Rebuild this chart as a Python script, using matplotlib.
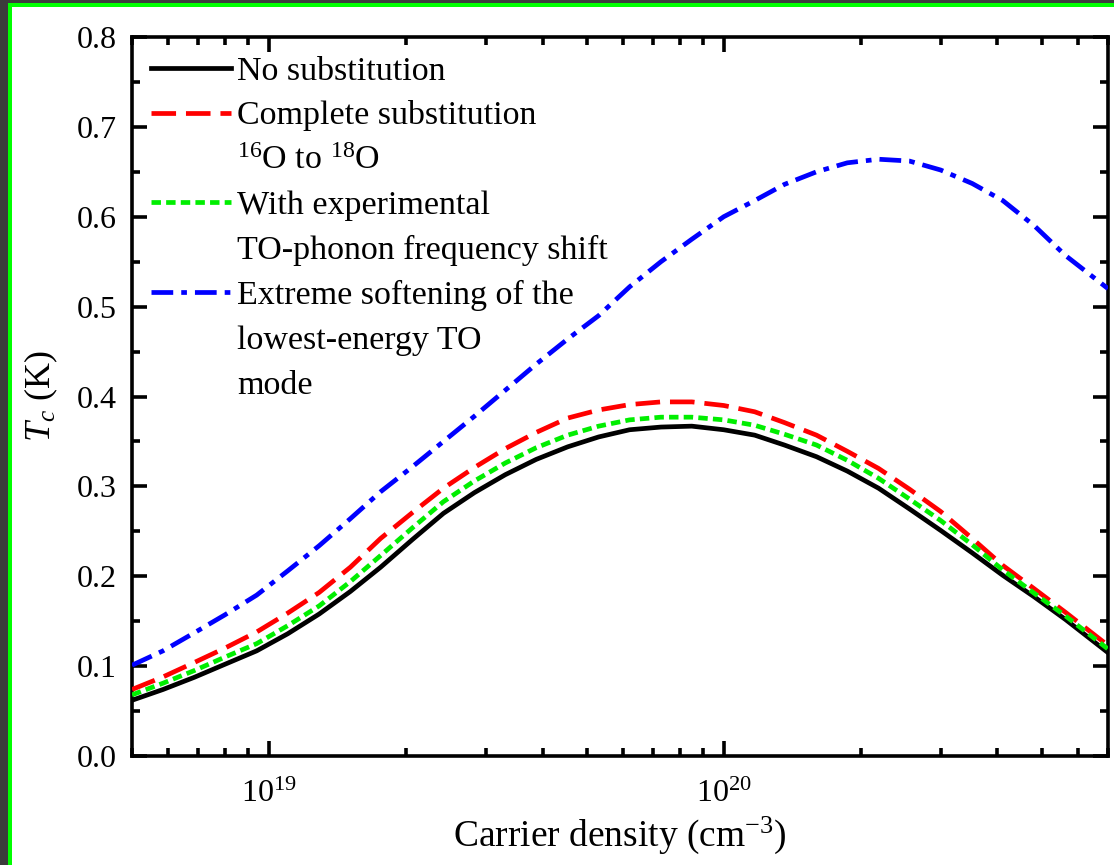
import matplotlib
matplotlib.use("Agg")
import matplotlib.pyplot as plt
from matplotlib.lines import Line2D
from matplotlib.patches import Rectangle
from matplotlib.ticker import LogLocator, NullFormatter, MultipleLocator

plt.rcParams['font.family'] = ['Liberation Serif', 'DejaVu Serif']
plt.rcParams['mathtext.fontset'] = 'custom'
plt.rcParams['mathtext.rm'] = 'Liberation Serif'
plt.rcParams['mathtext.it'] = 'Liberation Serif:italic'
plt.rcParams['mathtext.bf'] = 'Liberation Serif:bold'

# ---- data ----
density = [5.0e18, 5.85e18, 6.85e18, 8.0e18, 9.4e18, 1.1e19, 1.29e19, 1.51e19,
           1.76e19, 2.07e19, 2.42e19, 2.83e19, 3.31e19, 3.87e19, 4.54e19, 5.31e19,
           6.21e19, 7.28e19, 8.51e19, 1.0e20, 1.17e20, 1.36e20, 1.6e20, 1.87e20,
           2.19e20, 2.56e20, 3.0e20, 3.52e20, 4.11e20, 4.82e20, 5.64e20, 7.0e20]
tc_none = [0.062, 0.074, 0.0875, 0.102, 0.117, 0.136, 0.158, 0.183,
           0.210, 0.241, 0.270, 0.293, 0.313, 0.330, 0.344, 0.355,
           0.363, 0.366, 0.367, 0.363, 0.357, 0.346, 0.333, 0.317,
           0.298, 0.275, 0.251, 0.226, 0.201, 0.177, 0.152, 0.115]
tc_complete = [0.074, 0.088, 0.104, 0.120, 0.138, 0.159, 0.182, 0.210,
               0.242, 0.271, 0.298, 0.321, 0.342, 0.360, 0.376, 0.385,
               0.391, 0.394, 0.394, 0.390, 0.383, 0.371, 0.357, 0.339,
               0.320, 0.297, 0.272, 0.242, 0.212, 0.186, 0.160, 0.123]
tc_exp = [0.068, 0.081, 0.095, 0.110, 0.125, 0.145, 0.167, 0.194,
          0.223, 0.254, 0.283, 0.306, 0.326, 0.343, 0.357, 0.367,
          0.374, 0.377, 0.377, 0.374, 0.368, 0.358, 0.346, 0.329,
          0.309, 0.286, 0.262, 0.235, 0.207, 0.181, 0.156, 0.119]
tc_extreme = [0.101, 0.117, 0.137, 0.157, 0.179, 0.206, 0.234, 0.264,
              0.294, 0.322, 0.350, 0.378, 0.407, 0.436, 0.464, 0.490,
              0.522, 0.550, 0.575, 0.600, 0.618, 0.636, 0.650, 0.660,
              0.664, 0.662, 0.652, 0.637, 0.618, 0.590, 0.557, 0.520]

labels = ["No substitution", "Complete substitution", r"$^{16}$O to $^{18}$O",
          "With experimental", "TO-phonon frequency shift",
          "Extreme softening of the", "lowest-energy TO", "mode"]

fig = plt.figure(figsize=(11.14, 8.65), dpi=100)
fig.patch.set_facecolor('white')

# frame decoration seen in reference (dark strip + green line on left/top)
fig.patches.append(Rectangle((0, 0), 8 / 1114, 1, transform=fig.transFigure,
                             facecolor='#3c3c3c', edgecolor='none', zorder=0))
fig.patches.append(Rectangle((8 / 1114, 0), 3.5 / 1114, 1 - 3 / 865, transform=fig.transFigure,
                             facecolor='#00ff00', edgecolor='none', zorder=0))
fig.patches.append(Rectangle((0, 1 - 3 / 865), 1, 3 / 865, transform=fig.transFigure,
                             facecolor='#3c3c3c', edgecolor='none', zorder=0))
fig.patches.append(Rectangle((8 / 1114, 1 - 7 / 865), 1, 4 / 865, transform=fig.transFigure,
                             facecolor='#00ff00', edgecolor='none', zorder=0))

ax = fig.add_axes([132 / 1114, 1 - 756 / 865, (1108 - 132) / 1114, (756 - 37) / 865])

lw = 3.4
st_red = dict(color='#ff0000', lw=lw, dashes=(5.2, 2.1))
st_green = dict(color='#00ee00', lw=lw, dashes=(2.0, 1.1))
st_blue = dict(color='#0000ff', lw=lw, dashes=(4.6, 1.7, 1.2, 1.7))
ax.plot(density, tc_none, color='black', lw=lw, zorder=3)
ax.plot(density, tc_complete, zorder=4, **st_red)
ax.plot(density, tc_exp, zorder=5, **st_green)
ax.plot(density, tc_extreme, zorder=4, **st_blue)

ax.set_xscale('log')
ax.set_xlim(5e18, 7e20)
ax.set_ylim(0.0, 0.8)
ax.yaxis.set_major_locator(MultipleLocator(0.1))
ax.yaxis.set_minor_locator(MultipleLocator(0.05))
ax.yaxis.set_major_formatter(plt.FuncFormatter(lambda v, p: f"{v:.1f}"))
ax.xaxis.set_major_locator(LogLocator(base=10, numticks=10))
ax.xaxis.set_minor_locator(LogLocator(base=10, subs=range(2, 10), numticks=100))
ax.xaxis.set_minor_formatter(NullFormatter())

for s in ax.spines.values():
    s.set_linewidth(2.6)
ax.tick_params(which='both', direction='in', top=True, right=True, width=2.6,
               labelsize=23)
ax.tick_params(which='major', length=11)
ax.tick_params(which='minor', length=6)
ax.tick_params(axis='y', which='major', pad=11)
ax.tick_params(axis='x', which='major', pad=17)

ax.set_xlabel(r"Carrier density (cm$^{-3}$)", fontsize=27, labelpad=4)
ax.set_ylabel(r"$T_c$ (K)", fontsize=26, labelpad=12)

handles = [Line2D([], [], color='black', lw=lw),
           Line2D([], [], **st_red),
           Line2D([], [], color='none'),
           Line2D([], [], **st_green),
           Line2D([], [], color='none'),
           Line2D([], [], **st_blue),
           Line2D([], [], color='none'),
           Line2D([], [], color='none')]
ax.legend(handles, labels, loc='upper left', frameon=False, fontsize=24.5,
          handlelength=2.35, handletextpad=0.2, labelspacing=0.41,
          borderaxespad=0.25, borderpad=0.3)

fig.savefig("out.png", dpi=100, facecolor=fig.get_facecolor())
